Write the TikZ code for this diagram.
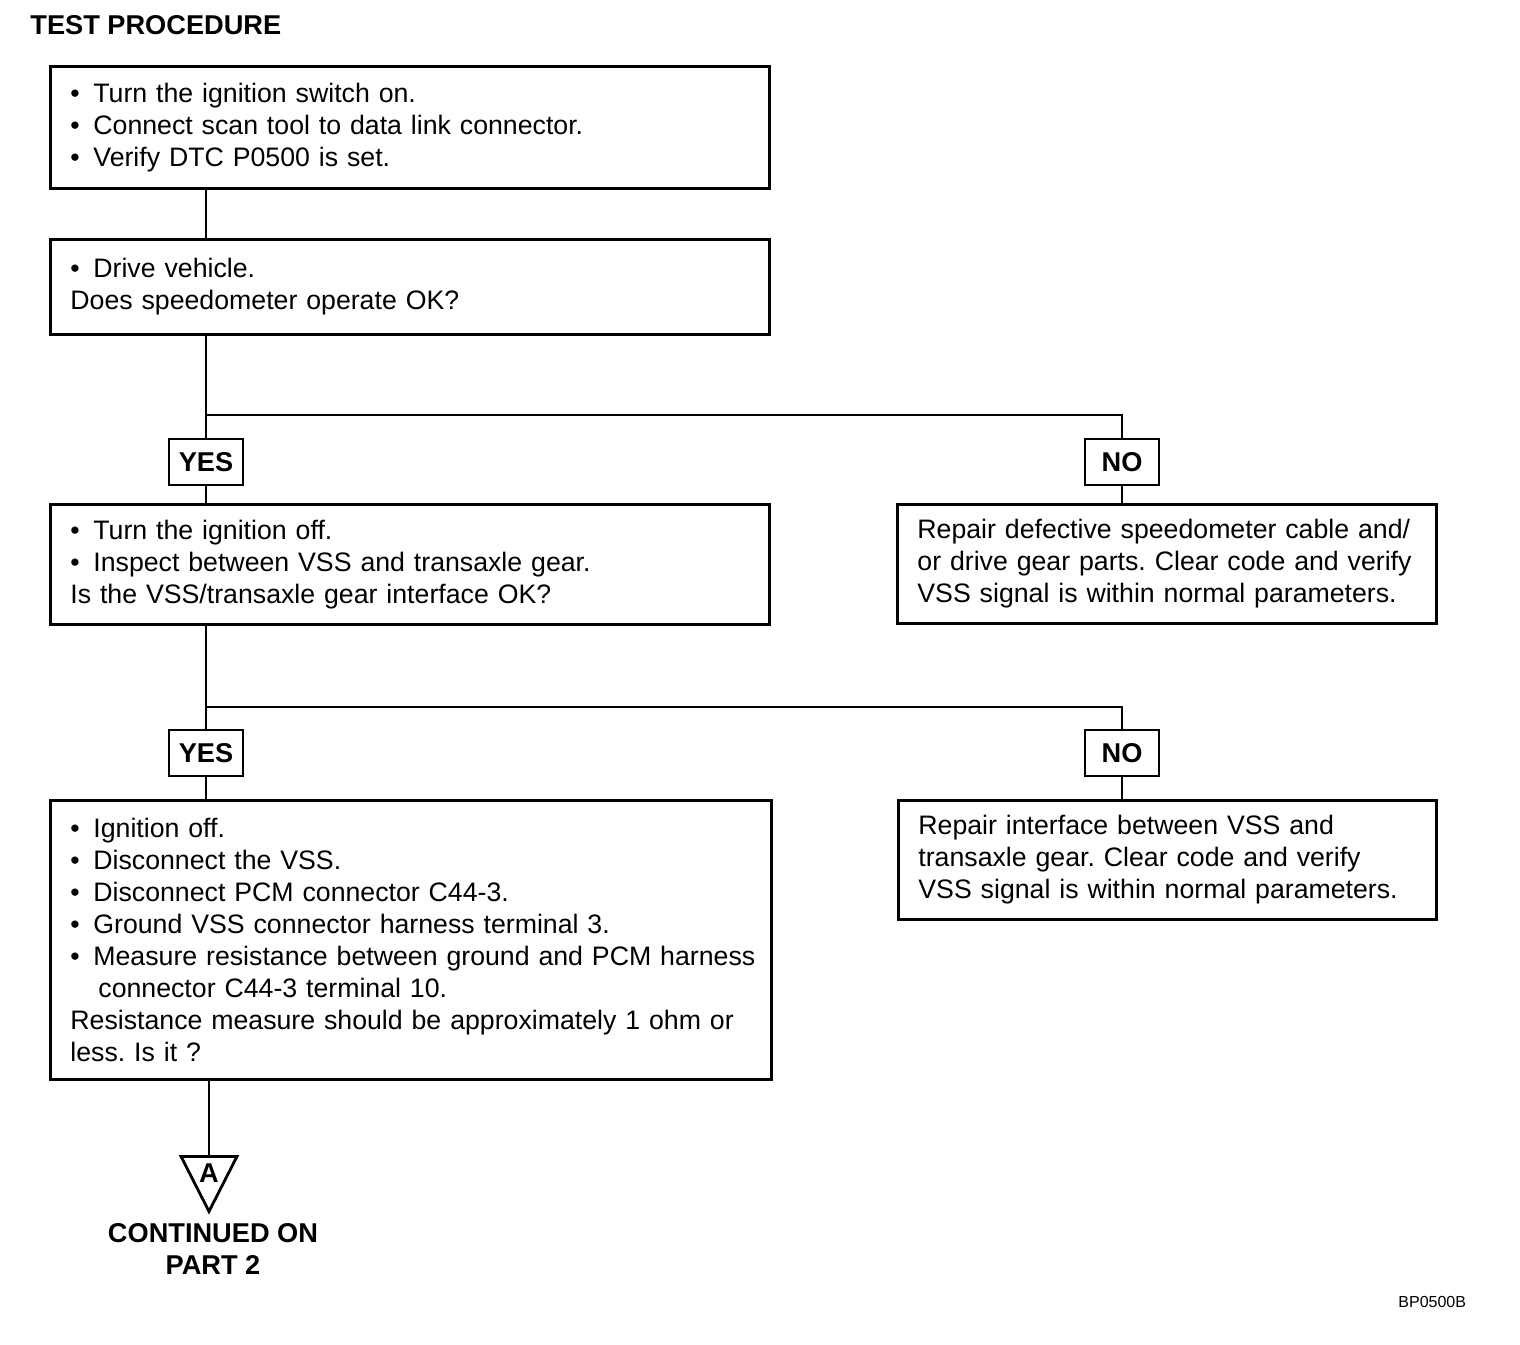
\documentclass[tikz,border=0pt]{standalone}
\usepackage{fontspec}
\setmainfont{Liberation Sans}
\usetikzlibrary{positioning, shapes.geometric}
\frenchspacing
\newcommand\bul{\makebox[11.5pt][l]{\textbullet}}
\tikzset{
  stepbox/.style={draw, line width=1.4pt, anchor=north west, align=left,
                  inner xsep=10pt, inner ysep=3pt, font=\fontsize{13.35}{16}\selectfont},
  answer/.style={draw, line width=1.4pt, minimum width=37pt, minimum height=23pt,
                 inner sep=0pt, font=\fontsize{13.6}{16}\selectfont\bfseries},
  link/.style={line width=1.4pt},
}

\begin{document}
\begin{tikzpicture}[x=0.5pt, y=-0.5pt]
  \path[use as bounding box, fill=white] (0,0) rectangle (1520,1344);

  \node[anchor=west, inner sep=0pt, font=\fontsize{13.6}{16}\selectfont\bfseries] (title) at (30,25) {TEST PROCEDURE};

  \node[stepbox, text width=339.5pt, minimum height=61pt] (check) at (49,65)
    {\bul Turn the ignition switch on.\\
     \bul Connect scan tool to data link connector.\\
     \bul Verify DTC P0500 is set.};
  \node[stepbox, text width=339.5pt, minimum height=47.5pt] (drive) at (49,238)
    {\bul Drive vehicle.\\
     Does speedometer operate OK?};

  \node[answer] (yes1) at (206,462) {YES};
  \node[answer] (no1) at (1122,462) {NO};
  \coordinate (split1) at (206,415);

  \node[stepbox, text width=339.5pt, minimum height=60pt] (inspect) at (49,503)
    {\bul Turn the ignition off.\\
     \bul Inspect between VSS and transaxle gear.\\
     Is the VSS/transaxle gear interface OK?};
  \node[stepbox, text width=249.5pt, minimum height=59.5pt] (cable) at (896,503)
    {\mbox{Repair defective speedometer cable and/}\\
     \mbox{or drive gear parts. Clear code and verify}\\
     \mbox{VSS signal is within normal parameters.}};

  \node[answer] (yes2) at (206,753) {YES};
  \node[answer] (no2) at (1122,753) {NO};
  \coordinate (split2) at (206,707);

  \node[stepbox, text width=340.5pt, minimum height=139.5pt] (measure) at (49,799)
    {\bul Ignition off.\\
     \bul Disconnect the VSS.\\
     \bul Disconnect PCM connector C44-3.\\
     \bul Ground VSS connector harness terminal 3.\\
     \bul \mbox{Measure resistance between ground and PCM harness}\\
     \hspace*{14pt}connector C44-3 terminal 10.\\
     \mbox{Resistance measure should be approximately 1 ohm or}\\
     less. Is it ?};
  \node[stepbox, text width=249pt, minimum height=59.5pt] (iface) at (897,799)
    {\mbox{Repair interface between VSS and}\\
     \mbox{transaxle gear. Clear code and verify}\\
     \mbox{VSS signal is within normal parameters.}};

  \node[draw, line width=1.4pt, isosceles triangle, isosceles triangle stretches,
        shape border rotate=-90, minimum width=28pt, minimum height=27.5pt, inner sep=0pt,
        anchor=north] (contA) at (209,1155) {};
  \node[inner sep=0pt, font=\fontsize{13.6}{16}\selectfont\bfseries] (letA) at (209,1173) {A};
  \node[align=center, inner sep=0pt, font=\fontsize{13.6}{16}\selectfont\bfseries] (cont) at (213,1249)
    {CONTINUED ON\\PART 2};

  \node[anchor=west, inner sep=0pt, font=\fontsize{8}{9}\selectfont] (ref) at (1398,1302) {BP0500B};

  \draw[link] (check.south -| yes1) -- (drive.north -| yes1);
  \draw[link] (drive.south -| yes1) -- (yes1.north);
  \draw[link] (split1) -| (no1.north);
  \draw[link] (yes1.south) -- (inspect.north -| yes1);
  \draw[link] (no1.south) -- (cable.north -| no1);
  \draw[link] (inspect.south -| yes2) -- (yes2.north);
  \draw[link] (split2) -| (no2.north);
  \draw[link] (yes2.south) -- (measure.north -| yes2);
  \draw[link] (no2.south) -- (iface.north -| no2);
  \draw[link] (measure.south -| contA.north) -- (contA.north);
\end{tikzpicture}
\end{document}
